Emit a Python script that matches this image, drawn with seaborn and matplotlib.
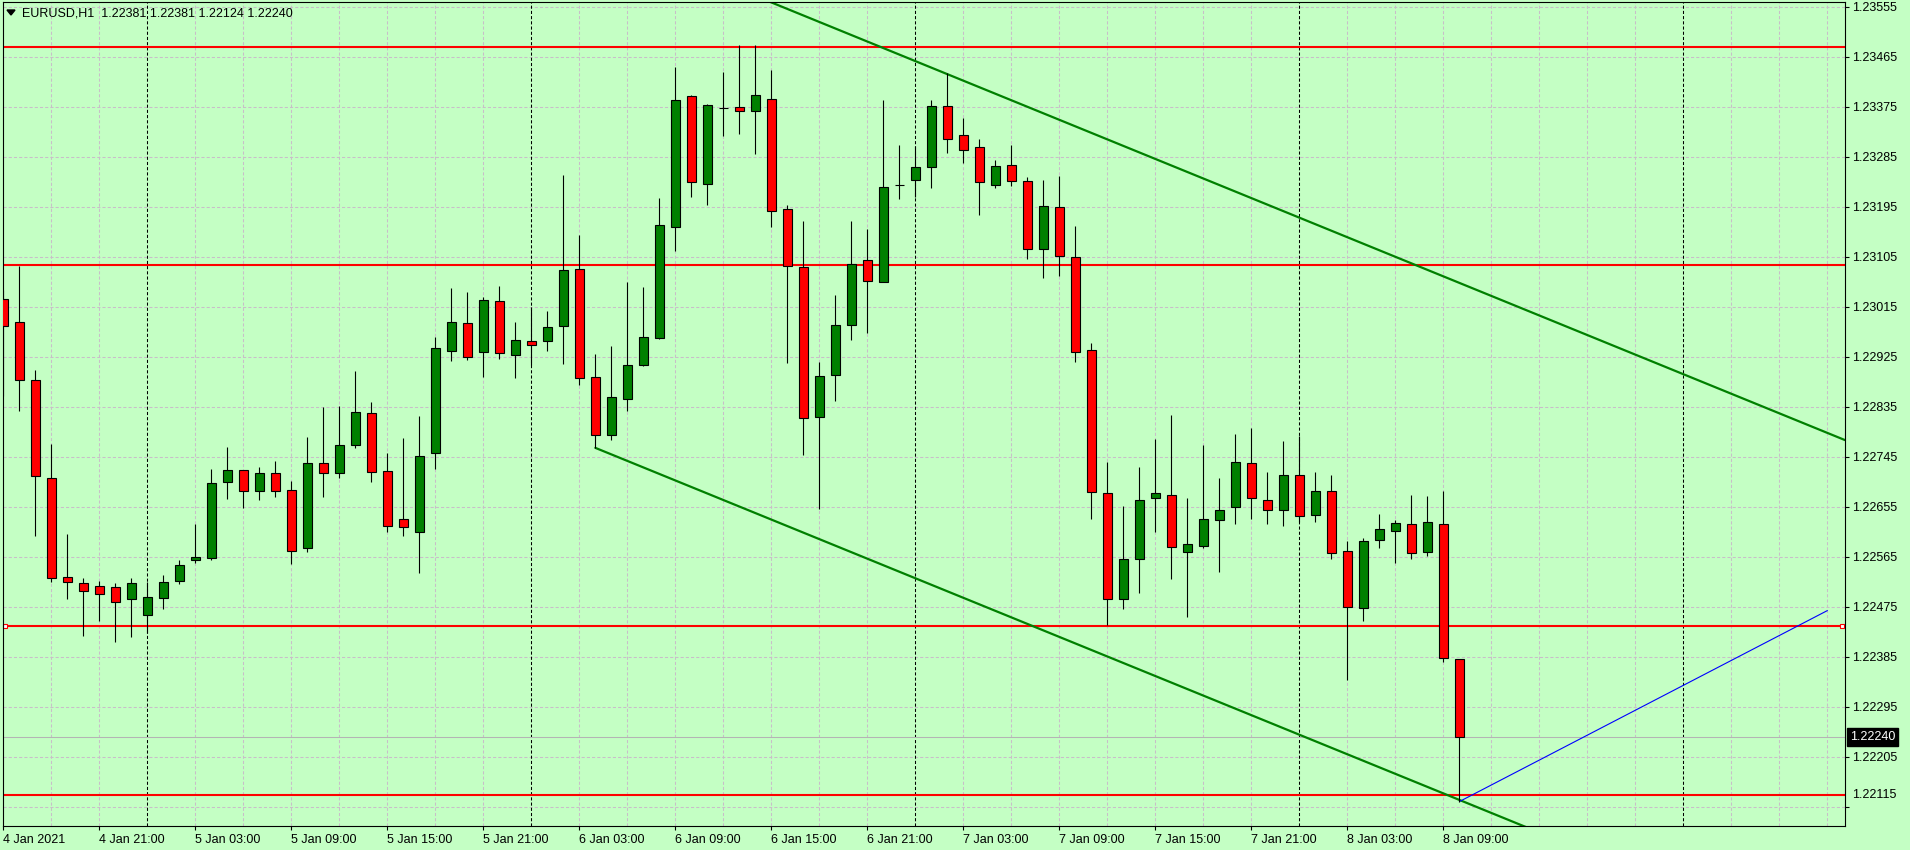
import numpy as np
import pandas as pd
import matplotlib
matplotlib.use("Agg")
import matplotlib.pyplot as plt
import matplotlib.transforms as mtransforms
import matplotlib.patches as mpatches
import seaborn as sns

# ---------------- data ----------------
symbol_title = "EURUSD,H1"
header_values = ["1.22381", "1.22381", "1.22124", "1.22240"]

opens = [
    1.23030, 1.22987, 1.22884, 1.22706, 1.22529, 1.22517, 1.22513, 1.22511, 1.22489, 1.22460,
    1.22491, 1.22521, 1.22559, 1.22563, 1.22699, 1.22721, 1.22684, 1.22715, 1.22686, 1.22581,
    1.22733, 1.22715, 1.22767, 1.22823, 1.22719, 1.22633, 1.22609, 1.22751, 1.22936, 1.22985,
    1.22933, 1.23025, 1.22929, 1.22953, 1.22953, 1.22980, 1.23084, 1.22888, 1.22784, 1.22849,
    1.22910, 1.22958, 1.23158, 1.23394, 1.23237, 1.23373, 1.23374, 1.23367, 1.23390, 1.23192,
    1.23086, 1.22816, 1.22892, 1.22983, 1.23099, 1.23060, 1.23234, 1.23243, 1.23266, 1.23376,
    1.23324, 1.23302, 1.23235, 1.23270, 1.23241, 1.23120, 1.23194, 1.23104, 1.22937, 1.22679,
    1.22488, 1.22561, 1.22670, 1.22677, 1.22573, 1.22585, 1.22631, 1.22654, 1.22733, 1.22668,
    1.22650, 1.22712, 1.22641, 1.22683, 1.22575, 1.22472, 1.22595, 1.22611, 1.22623, 1.22573,
    1.22623, 1.22381]
highs = [
    1.23045, 1.23088, 1.22901, 1.22768, 1.22606, 1.22526, 1.22521, 1.22517, 1.22526, 1.22519,
    1.22532, 1.22559, 1.22624, 1.22723, 1.22762, 1.22721, 1.22726, 1.22737, 1.22701, 1.22780,
    1.22835, 1.22836, 1.22899, 1.22843, 1.22752, 1.22779, 1.22818, 1.22961, 1.23049, 1.23042,
    1.23033, 1.23052, 1.22988, 1.23014, 1.23007, 1.23252, 1.23144, 1.22930, 1.22944, 1.23060,
    1.23051, 1.23211, 1.23447, 1.23396, 1.23381, 1.23438, 1.23486, 1.23486, 1.23441, 1.23198,
    1.23169, 1.22916, 1.23036, 1.23169, 1.23155, 1.23387, 1.23306, 1.23304, 1.23387, 1.23436,
    1.23355, 1.23317, 1.23279, 1.23307, 1.23249, 1.23243, 1.23250, 1.23160, 1.22949, 1.22736,
    1.22656, 1.22727, 1.22777, 1.22820, 1.22671, 1.22766, 1.22707, 1.22786, 1.22797, 1.22718,
    1.22773, 1.22782, 1.22718, 1.22712, 1.22593, 1.22598, 1.22642, 1.22631, 1.22676, 1.22674,
    1.22683, 1.22381]
lows = [
    1.22855, 1.22828, 1.22602, 1.22520, 1.22489, 1.22423, 1.22449, 1.22412, 1.22421, 1.22427,
    1.22471, 1.22515, 1.22554, 1.22559, 1.22669, 1.22653, 1.22668, 1.22673, 1.22552, 1.22574,
    1.22673, 1.22707, 1.22761, 1.22700, 1.22610, 1.22603, 1.22535, 1.22723, 1.22918, 1.22919,
    1.22889, 1.22921, 1.22887, 1.22911, 1.22936, 1.22912, 1.22874, 1.22761, 1.22775, 1.22828,
    1.22908, 1.22957, 1.23116, 1.23213, 1.23198, 1.23323, 1.23326, 1.23290, 1.23159, 1.22914,
    1.22748, 1.22651, 1.22846, 1.22956, 1.22968, 1.23060, 1.23209, 1.23212, 1.23229, 1.23292,
    1.23274, 1.23181, 1.23229, 1.23233, 1.23101, 1.23067, 1.23071, 1.22916, 1.22633, 1.22442,
    1.22471, 1.22500, 1.22610, 1.22525, 1.22457, 1.22581, 1.22538, 1.22623, 1.22632, 1.22623,
    1.22621, 1.22628, 1.22628, 1.22560, 1.22343, 1.22450, 1.22581, 1.22554, 1.22561, 1.22567,
    1.22376, 1.22124]
closes = [
    1.22980, 1.22883, 1.22710, 1.22526, 1.22520, 1.22504, 1.22497, 1.22484, 1.22517, 1.22493,
    1.22519, 1.22550, 1.22565, 1.22697, 1.22722, 1.22683, 1.22715, 1.22684, 1.22576, 1.22733,
    1.22715, 1.22766, 1.22825, 1.22717, 1.22620, 1.22618, 1.22746, 1.22940, 1.22987, 1.22925,
    1.23027, 1.22931, 1.22955, 1.22947, 1.22978, 1.23081, 1.22886, 1.22784, 1.22852, 1.22911,
    1.22960, 1.23162, 1.23388, 1.23239, 1.23378, 1.23373, 1.23367, 1.23396, 1.23187, 1.23088,
    1.22814, 1.22890, 1.22983, 1.23093, 1.23061, 1.23230, 1.23234, 1.23266, 1.23376, 1.23318,
    1.23297, 1.23239, 1.23268, 1.23241, 1.23120, 1.23196, 1.23106, 1.22934, 1.22682, 1.22488,
    1.22560, 1.22667, 1.22679, 1.22582, 1.22587, 1.22632, 1.22650, 1.22735, 1.22670, 1.22650,
    1.22712, 1.22638, 1.22683, 1.22571, 1.22474, 1.22593, 1.22614, 1.22625, 1.22571, 1.22627,
    1.22382, 1.22240]

time_label_bars = [0, 6, 12, 18, 24, 30, 36, 42, 48, 54, 60, 66, 72, 78, 84, 90]
time_labels = ["4 Jan 2021", "4 Jan 21:00", "5 Jan 03:00", "5 Jan 09:00", "5 Jan 15:00",
               "5 Jan 21:00", "6 Jan 03:00", "6 Jan 09:00", "6 Jan 15:00", "6 Jan 21:00",
               "7 Jan 03:00", "7 Jan 09:00", "7 Jan 15:00", "7 Jan 21:00", "8 Jan 03:00",
               "8 Jan 09:00"]
day_separator_bars = [9, 33, 57, 81, 105]
price_ticks = [1.23555, 1.23465, 1.23375, 1.23285, 1.23195, 1.23105, 1.23015, 1.22925,
               1.22835, 1.22745, 1.22655, 1.22565, 1.22475, 1.22385, 1.22295, 1.22205, 1.22115]
bid_price = 1.22240
red_levels = [1.23483, 1.23090, 1.22440, 1.22135]
upper_channel_x = [47.0, 115.1]
upper_channel_y = [1.23575, 1.22775]
lower_channel_x = [37.0, 115.1]
lower_channel_y = [1.22761, 1.21844]
blue_line_x = [91.0, 114.0]
blue_line_y = [1.22124, 1.22468]

# ---------------- style ----------------
BG = "#C4FFC4"
BULL = "#008000"
BEAR = "#FF0000"
GRID = "#C8BEC8"

sns.set_theme(style="white", rc={"axes.facecolor": BG, "figure.facecolor": BG})
plt.rcParams["font.family"] = ["Liberation Sans", "DejaVu Sans"]
plt.rcParams["font.size"] = 9

W, H = 1910, 850
fig = plt.figure(figsize=(W / 100, H / 100), dpi=100)
left_px, right_px, top_px, bottom_px = 2.7, 1845, 2, 826
ax = fig.add_axes([left_px / W, (H - bottom_px) / H, (right_px - left_px) / W, (bottom_px - top_px) / H])
ax.set_facecolor(BG)

df = pd.DataFrame({"open": opens, "high": highs, "low": lows, "close": closes})
df["bar"] = np.arange(len(df))
df["up"] = df["close"] >= df["open"]

ax.set_xlim(-0.04, 115.1)
ax.set_ylim(1.22080, 1.23564)

# grid
for p in price_ticks:
    ax.axhline(p, color=GRID, lw=0.75, ls=(0, (3, 2)), zorder=0.5)
for b in range(3, 115, 3):
    if b not in day_separator_bars:
        ax.axvline(b, color=GRID, lw=0.75, ls=(0, (3, 2)), zorder=0.5)
for b in day_separator_bars:
    ax.axvline(b, color="black", lw=0.75, ls=(0, (3, 2)), zorder=0.6)

# bid line
ax.axhline(bid_price, color="#B4B4B4", lw=0.75, zorder=0.8)

# horizontal levels
for lv in red_levels:
    ax.axhline(lv, color="#FF0000", lw=1.5, zorder=1.0)
ax.plot([0.1, 114.9], [red_levels[2], red_levels[2]], ls="none", marker="s", ms=3.2,
        mfc="white", mec="#FF0000", mew=0.8, zorder=1.1, clip_on=False)

# trend lines (seaborn)
sns.lineplot(x=upper_channel_x, y=upper_channel_y, ax=ax, color=BULL, lw=1.6, zorder=1.2)
sns.lineplot(x=lower_channel_x, y=lower_channel_y, ax=ax, color=BULL, lw=1.6, zorder=1.2)
sns.lineplot(x=blue_line_x, y=blue_line_y, ax=ax, color="#0000FF", lw=0.8, zorder=1.2)

# candles
ax.vlines(df["bar"], df["low"], df["high"], color="black", lw=0.8, zorder=2)
body_bottom = np.minimum(df["open"], df["close"])
body_h = np.abs(df["close"] - df["open"])
colors = [BULL if u else BEAR for u in df["up"]]
ax.bar(df["bar"], body_h, bottom=body_bottom, width=0.57, color=colors,
       edgecolor="black", linewidth=0.8, zorder=3)

# axes frame
for s in ax.spines.values():
    s.set_visible(True)
    s.set_color("black")
    s.set_linewidth(0.8)

ax.yaxis.tick_right()
ax.set_yticks(price_ticks)
ylabels = [f"{p:.5f}" for p in price_ticks]
ylabels[-1] = ""  # lowest label drawn separately (raised, as on the terminal scale)
ax.set_yticklabels(ylabels)
ax.tick_params(axis="y", right=True, left=False, labelright=True, labelleft=False,
               length=3, width=0.8, pad=2, labelsize=9, colors="black")
trans = mtransforms.blended_transform_factory(ax.transAxes, ax.transData)
ax.annotate(f"{price_ticks[-1]:.5f}", xy=(1.0, price_ticks[-1]), xycoords=trans,
            xytext=(5, 8), textcoords="offset points", ha="left", va="center",
            fontsize=9, color="black", annotation_clip=False)

ax.set_xticks(time_label_bars)
ax.set_xticklabels(time_labels)
for lab in ax.get_xticklabels():
    lab.set_ha("left")
ax.tick_params(axis="x", bottom=True, length=3, width=0.8, pad=2.5, labelsize=9, colors="black")
ax.set_xlabel("")
ax.set_ylabel("")
ax.grid(False)

# bid price box on the price scale
ax.text(1.0 + 5 / (right_px - left_px), bid_price, f"{bid_price:.5f}", transform=trans,
        ha="left", va="center", color="white", fontsize=9, zorder=5, clip_on=False,
        bbox=dict(boxstyle="square,pad=0.22", fc="black", ec="black"))

# header
tri = mpatches.Polygon([[7 / W, 1 - 10 / H], [15 / W, 1 - 10 / H], [11 / W, 1 - 15 / H]],
                       closed=True, transform=fig.transFigure, color="black", zorder=10)
fig.patches.append(tri)
fig.text(21.5 / W, 1 - 16.7 / H, symbol_title + "  " + " ".join(header_values),
         ha="left", va="baseline", fontsize=9, color="black", zorder=10)

fig.savefig("out.png", dpi=100, facecolor=BG)
